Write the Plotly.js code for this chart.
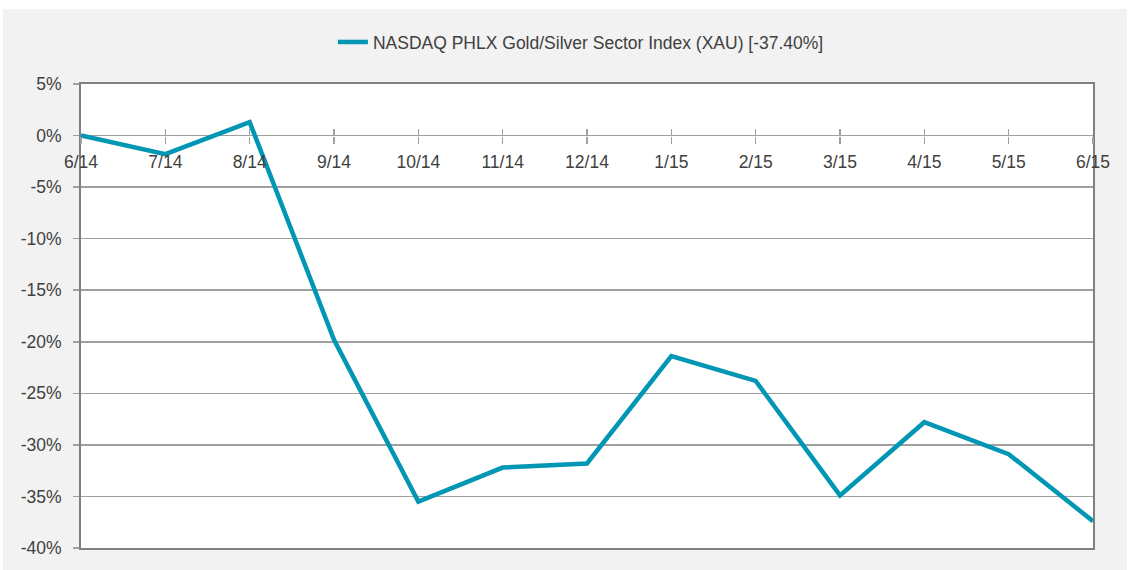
<!DOCTYPE html>
<html>
<head>
<meta charset="utf-8">
<script src="https://cdn.plot.ly/plotly-3.0.1.min.js"></script>
<style>
  html, body { margin: 0; padding: 0; background: #ffffff; }
  #chart { position: absolute; left: 3px; top: 9px; width: 1124px; height: 561px; }
</style>
</head>
<body>
<div id="chart"></div>
<script>
const monthLabels = ["6/14", "7/14", "8/14", "9/14", "10/14", "11/14", "12/14", "1/15", "2/15", "3/15", "4/15", "5/15", "6/15"];
const xauReturns = [0, -1.8, 1.3, -19.8, -35.5, -32.2, -31.8, -21.4, -23.8, -34.9, -27.8, -30.9, -37.4];
const seriesName = "NASDAQ PHLX Gold/Silver Sector Index (XAU) [-37.40%]";
const yTickVals = [5, 0, -5, -10, -15, -20, -25, -30, -35, -40];
const yTickText = ["5%", "0%", "-5%", "-10%", "-15%", "-20%", "-25%", "-30%", "-35%", "-40%"];

const idx = monthLabels.map((_, i) => i);
const FONT = "Liberation Sans Narrow, Arial Narrow, sans-serif";
const TXT = "#404040";
const GRID = "#a0a0a0";
const BORDER = "#808080";
const yMin = -40, yMax = 5;
const zeroPos = (0 - yMin) / (yMax - yMin);

const trace = {
  x: idx,
  y: xauReturns,
  type: "scatter",
  mode: "lines",
  name: seriesName,
  line: { color: "#0096b4", width: 4.5 },
  hoverinfo: "x+y"
};

// invisible helper traces so the overlay axes (tick marks above the zero line, border) are drawn
const helper = (ax) => ({
  x: idx,
  y: xauReturns,
  xaxis: ax,
  type: "scatter",
  mode: "lines",
  line: { color: "rgba(0,0,0,0)", width: 0 },
  showlegend: false,
  hoverinfo: "skip"
});

const layout = {
  width: 1124,
  height: 561,
  paper_bgcolor: "#f2f2f2",
  plot_bgcolor: "#ffffff",
  margin: { l: 78, r: 34, t: 75, b: 22 },
  font: { family: FONT, size: 17.5, color: TXT },
  showlegend: true,
  legend: {
    orientation: "h",
    x: 0.494, xanchor: "center",
    y: 0.941, yanchor: "middle",
    yref: "container",
    bgcolor: "rgba(0,0,0,0)",
    font: { family: FONT, size: 17.5, color: TXT }
  },
  xaxis: {
    type: "linear",
    range: [0, monthLabels.length - 1],
    anchor: "free",
    position: zeroPos,
    tickmode: "array",
    tickvals: idx,
    ticktext: monthLabels,
    ticks: "outside",
    ticklen: 7,
    tickwidth: 1.5,
    tickcolor: GRID,
    ticklabelstandoff: 3,
    showgrid: false,
    zeroline: false,
    showline: false,
    fixedrange: true
  },
  xaxis2: {
    type: "linear",
    overlaying: "x",
    range: [0, monthLabels.length - 1],
    anchor: "free",
    position: zeroPos,
    tickmode: "array",
    tickvals: idx,
    ticks: "inside",
    ticklen: 7,
    tickwidth: 1.5,
    tickcolor: GRID,
    showticklabels: false,
    showgrid: false,
    zeroline: false,
    showline: false
  },
  xaxis3: {
    type: "linear",
    overlaying: "x",
    range: [0, monthLabels.length - 1],
    anchor: "y",
    showline: true,
    mirror: true,
    linecolor: BORDER,
    linewidth: 2,
    ticks: "",
    showticklabels: false,
    showgrid: false,
    zeroline: false
  },
  yaxis: {
    range: [yMin, yMax],
    tickmode: "array",
    tickvals: yTickVals,
    ticktext: yTickText,
    ticks: "outside",
    ticklen: 6,
    tickwidth: 1.5,
    tickcolor: GRID,
    ticklabelstandoff: 8,
    showgrid: true,
    gridcolor: GRID,
    gridwidth: 1.5,
    zeroline: true,
    zerolinecolor: GRID,
    zerolinewidth: 1.5,
    showline: true,
    mirror: true,
    linecolor: BORDER,
    linewidth: 2,
    fixedrange: true
  }
};

Plotly.newPlot("chart", [helper("x2"), helper("x3"), trace], layout, { displayModeBar: false, staticPlot: true });
</script>
</body>
</html>
